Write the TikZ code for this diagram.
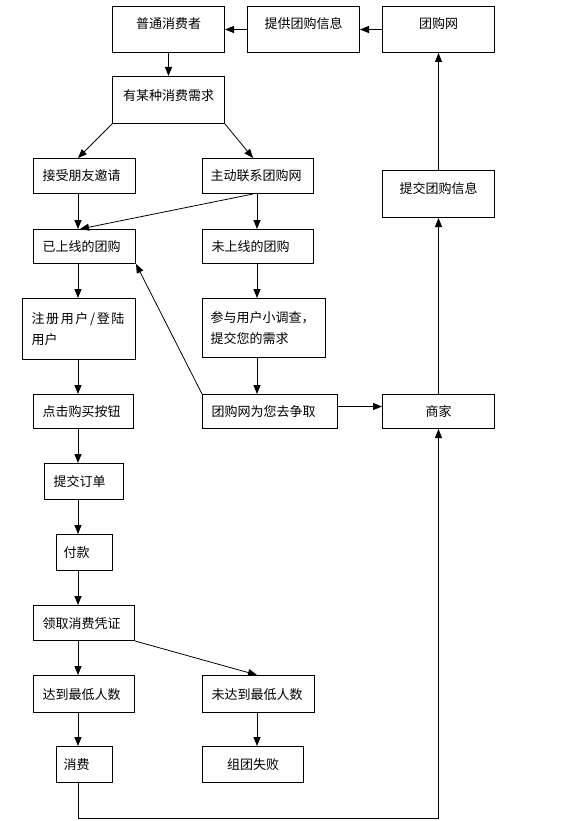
\documentclass[tikz,border=0pt]{standalone}
\usepackage{fontspec}
\newfontfamily\cjk{Noto Sans CJK SC}
\usetikzlibrary{arrows.meta}
\begin{document}
\begin{tikzpicture}[x=1pt,y=-1pt,
  box/.style={draw, line width=1pt, anchor=north west, inner ysep=0pt,
    font=\cjk\fontsize{13}{15}\selectfont, text height=10pt, text depth=0pt},
  cb/.style={box, inner xsep=0pt, align=center},
  lb/.style={box, inner xsep=9pt, align=left},
  two/.style={text height={}, text depth={}, font=\cjk\fontsize{13}{21.5}\selectfont},
  up/.style={text depth=#1},
  arr/.style={line width=0.8pt, -{Triangle[length=9pt,width=7pt]}},
  ln/.style={line width=0.8pt}]
\fill[white] (0,0) rectangle (576,821);
\useasboundingbox (0,0) rectangle (576,821);
\coordinate (lx) at (78,0);
\coordinate (mx) at (257,0);
% top row
\node[cb, minimum width=112pt, minimum height=46pt, up=12pt] (pt) at (112,6) {普通消费者};
\node[cb, minimum width=112pt, minimum height=46pt, up=12pt] (tg) at (247,6) {提供团购信息};
\node[cb, minimum width=112pt, minimum height=46pt, up=12pt] (tw) at (382,6) {团购网};
\node[cb, minimum width=112pt, minimum height=47pt, up=9pt] (xq) at (112,76) {有某种消费需求};
% second tier
\node[lb, text width=84pt, minimum height=35pt] (js) at (33,158) {接受朋友邀请};
\node[lb, inner xsep=8pt, text width=95pt, minimum height=35pt] (zd) at (202,158) {主动联系团购网};
\node[cb, minimum width=112pt, minimum height=47pt, up=11pt] (tj) at (382,170) {提交团购信息};
\node[lb, text width=84pt, minimum height=34pt] (ys) at (33,229) {已上线的团购};
\node[lb, text width=93pt, minimum height=34pt] (ws) at (202,229) {未上线的团购};
\node[lb, two, text width=95pt, minimum height=61pt] (zc) at (22,298) {\makebox[93pt][s]{注\hfill 册\hfill 用\hfill 户\hfill /\hfill 登\hfill 陆}\\用户};
\node[lb, two, inner xsep=8pt, text width=107pt, minimum height=59pt] (cy) at (202,298) {参与用户小调查，\\提交您的需求};
\node[lb, text width=82pt, minimum height=34pt] (dj) at (33,394) {点击购买按钮};
\node[lb, text width=117pt, minimum height=34pt] (zq) at (202,394) {团购网为您去争取};
\node[cb, minimum width=112pt, minimum height=34pt] (sj) at (382,394) {商家};
\node[lb, text width=61pt, minimum height=36pt] (dd) at (44,463) {提交订单};
\node[lb, inner xsep=7pt, text width=42pt, minimum height=36pt] (fk) at (56,534) {付款};
\node[lb, text width=83pt, minimum height=35pt] (lq) at (33,605) {领取消费凭证};
\node[lb, text width=83pt, minimum height=37pt] (dr) at (33,675) {达到最低人数};
\node[lb, text width=94pt, minimum height=37pt] (wd) at (202,675) {未达到最低人数};
\node[lb, inner xsep=7pt, text width=42pt, minimum height=36pt] (xf) at (56,746) {消费};
\node[cb, minimum width=101pt, minimum height=36pt] (sb) at (202,746) {组团失败};
% connectors
\draw[arr] (tw.west) -- (tg.east);
\draw[arr] (tg.west) -- (pt.east);
\draw[arr] (pt.south) -- (xq.north);
\draw[arr] (xq.south west) -- (js.north -| lx);
\draw[arr] (xq.south east) -- ([xshift=-4pt]zd.north -| mx);
\draw[arr] (js.south -| lx) -- (ys.north -| lx);
\draw[arr] ([xshift=-4pt]zd.south -| mx) -- ([xshift=2pt]ys.north -| lx);
\draw[arr] (zd.south -| mx) -- (ws.north -| mx);
\draw[arr] (ys.south -| lx) -- (zc.north -| lx);
\draw[arr] (ws.south -| mx) -- (cy.north -| mx);
\draw[arr] (zc.south -| lx) -- (dj.north -| lx);
\draw[arr] (cy.south -| mx) -- (zq.north -| mx);
\draw[arr] (zq.north west) -- (ys.south east);
\draw[arr] ([yshift=5pt]zq.east) -- ([yshift=5pt]sj.west);
\draw[arr] (sj.north) -- (tj.south);
\draw[arr] (tj.north) -- (tw.south);
\draw[arr] (dj.south -| lx) -- (dd.north -| lx);
\draw[arr] (dd.south -| lx) -- (fk.north -| lx);
\draw[arr] (fk.south -| lx) -- (lq.north -| lx);
\draw[arr] (lq.south -| lx) -- (dr.north -| lx);
\draw[arr] (lq.south east) -- (wd.north -| mx);
\draw[arr] (dr.south -| lx) -- (xf.north -| lx);
\draw[arr] (wd.south -| mx) -- (sb.north -| mx);
\draw[arr] (xf.south -| lx) -- ++(0,35) -| (sj.south);
\end{tikzpicture}
\end{document}
